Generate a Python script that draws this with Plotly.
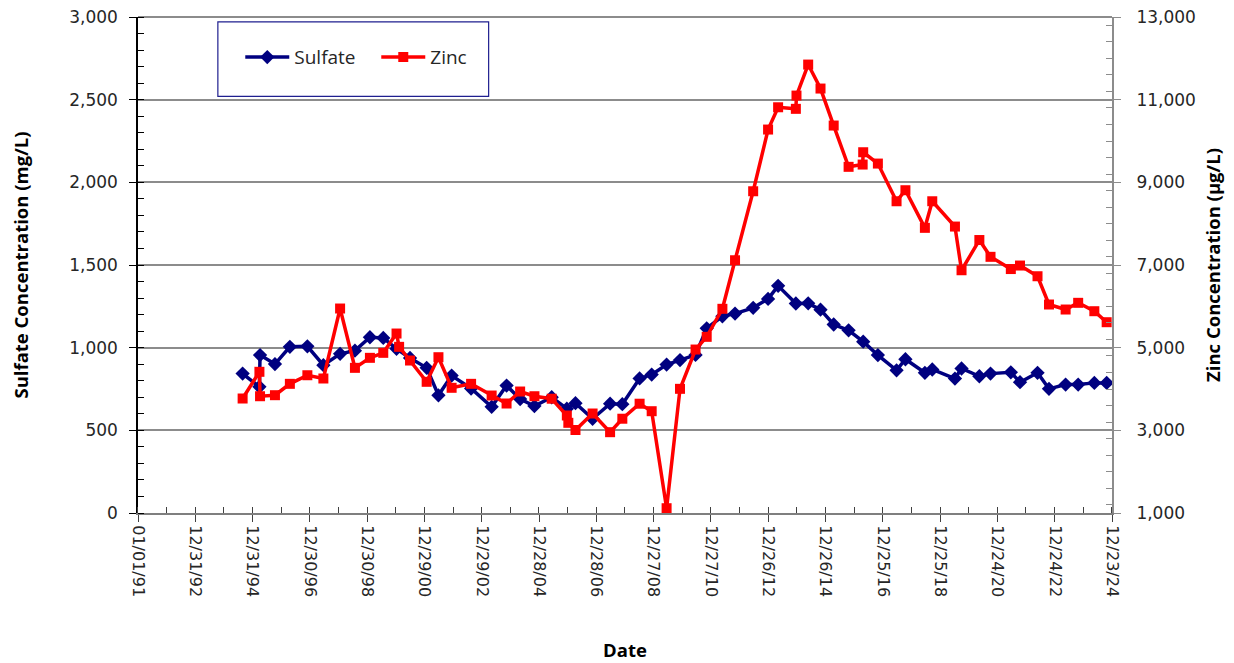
import plotly.graph_objects as go

# -- sampling dates and concentrations
sulfate_dates = ["1994-08-26", "1995-03-28", "1995-04-05", "1995-10-12", "1996-04-19", "1996-11-28",
                 "1997-06-20", "1998-01-19", "1998-07-27", "1999-02-03", "1999-07-23", "2000-01-08",
                 "2000-06-28", "2001-01-26", "2001-06-25", "2001-12-10", "2002-08-15", "2003-05-04",
                 "2003-11-10", "2004-05-01", "2004-10-30", "2005-06-07", "2005-12-17", "2006-04-06",
                 "2006-11-10", "2007-06-21", "2007-11-24", "2008-07-01", "2008-12-02", "2009-06-10",
                 "2009-11-28", "2010-06-14", "2010-11-03", "2011-05-22", "2011-10-30", "2012-06-17",
                 "2012-12-24", "2013-05-01", "2013-12-13", "2014-05-19", "2014-10-23", "2015-04-09",
                 "2015-10-16", "2016-04-19", "2016-10-23", "2017-06-18", "2017-10-09", "2018-06-14",
                 "2018-09-16", "2019-07-02", "2019-09-24", "2020-05-08", "2020-09-27", "2021-06-13",
                 "2021-10-08", "2022-05-19", "2022-10-12", "2023-05-12", "2023-10-19", "2024-05-12",
                 "2024-10-16"]
sulfate_mg_l = [843, 763, 955, 901, 1005, 1008, 894, 963, 982, 1063, 1059, 993,
                938, 878, 712, 831, 753, 642, 771, 689, 647, 700, 631, 664,
                570, 661, 658, 814, 837, 898, 925, 956, 1117, 1190, 1206, 1241,
                1295, 1374, 1267, 1268, 1230, 1140, 1105, 1036, 955, 863, 930, 848,
                868, 813, 874, 827, 843, 851, 791, 848, 751, 777, 777, 787, 787]

zinc_dates = ["1994-08-26", "1995-03-28", "1995-04-05", "1995-10-12", "1996-04-19", "1996-11-28",
              "1997-06-20", "1998-01-19", "1998-07-27", "1999-02-03", "1999-07-23", "2000-01-08",
              "2000-02-10", "2000-06-28", "2001-01-26", "2001-06-25", "2001-12-10", "2002-08-15",
              "2003-05-04", "2003-11-10", "2004-05-01", "2004-10-30", "2005-06-07", "2005-12-17",
              "2006-01-05", "2006-04-06", "2006-11-10", "2007-06-21", "2007-11-24", "2008-07-01",
              "2008-12-02", "2009-06-10", "2009-11-28", "2010-06-14", "2010-11-03", "2011-05-22",
              "2011-10-30", "2012-06-17", "2012-12-24", "2013-05-01", "2013-12-13", "2013-12-21",
              "2014-05-19", "2014-10-23", "2015-04-09", "2015-10-16", "2016-04-12", "2016-04-19",
              "2016-10-23", "2017-06-18", "2017-10-09", "2018-06-14", "2018-09-16", "2019-07-02",
              "2019-09-24", "2020-05-08", "2020-09-27", "2021-06-13", "2021-10-08", "2022-05-19",
              "2022-10-12", "2023-05-12", "2023-10-19", "2024-05-12", "2024-10-16"]
zinc_ug_l = [3770, 4416, 3825, 3850, 4125, 4333, 4254, 5947, 4512, 4754, 4875, 5342,
             5020, 4689, 4174, 4769, 4029, 4125, 3842, 3649, 3939, 3825, 3765, 3359,
             3182, 3008, 3407, 2955, 3281, 3644, 3463, 1116, 4004, 4955, 5262, 5940,
             7115, 8784, 10277, 10816, 10778, 11099, 11849, 11269, 10374, 9375, 9430, 9728,
             9454, 8542, 8809, 7899, 8542, 7930, 6873, 7604, 7198, 6902, 6987, 6728,
             6044, 5923, 6085, 5882, 5616]

# -- x ticks every 730 days, as in the original spreadsheet chart
tick_dates = ["1991-01-01", "1992-12-31", "1994-12-31", "1996-12-30", "1998-12-30", "2000-12-29",
              "2002-12-29", "2004-12-28", "2006-12-28", "2008-12-27", "2010-12-27", "2012-12-26",
              "2014-12-26", "2016-12-25", "2018-12-25", "2020-12-24", "2022-12-24", "2024-12-23"]
tick_labels = ["01/01/91", "12/31/92", "12/31/94", "12/30/96", "12/30/98", "12/29/00",
               "12/29/02", "12/28/04", "12/28/06", "12/27/08", "12/27/10", "12/26/12",
               "12/26/14", "12/25/16", "12/25/18", "12/24/20", "12/24/22", "12/23/24"]

navy = "#000080"
red = "#FF0000"
grid = "#8C8C8C"
x_tick_font = dict(family="DejaVu Sans", size=16, color="#262626")
y_tick_font = dict(family="DejaVu Sans", size=17, color="#262626")
title_font = dict(family="Open Sans", size=18.5, color="#000000", weight="bold")

fig = go.Figure()
fig.add_trace(go.Scatter(x=sulfate_dates, y=sulfate_mg_l, name="Sulfate", mode="lines+markers",
                         line=dict(color=navy, width=3.5),
                         marker=dict(symbol="diamond", size=11, color=navy)))
fig.add_trace(go.Scatter(x=zinc_dates, y=zinc_ug_l, name="Zinc", mode="lines+markers", yaxis="y2",
                         line=dict(color=red, width=3.5),
                         marker=dict(symbol="square", size=10, color=red)))

# page body has an 8px margin, so the margins are trimmed by 8 on the left/top
fig.update_layout(
    width=1234, height=663,
    margin=dict(l=130, r=130, t=9, b=158, autoexpand=False),
    plot_bgcolor="white", paper_bgcolor="white",
    showlegend=True,
    legend=dict(orientation="h", x=0.105, y=0.919, xanchor="left", yanchor="middle",
                itemwidth=44, entrywidth=77, bgcolor="rgba(0,0,0,0)", borderwidth=0,
                font=dict(family="Open Sans", size=19, color="#262626")),
    xaxis=dict(type="date", range=[tick_dates[0], tick_dates[-1]], automargin=False,
               tickvals=tick_dates, ticktext=tick_labels, tickangle=90,
               tickfont=x_tick_font, showgrid=False, zeroline=False, ticklabeloverflow="allow",
               showline=True, linecolor="#7F7F7F", linewidth=2,
               ticks="outside", ticklen=7, tickcolor="#404040",
               minor=dict(ticks="inside", ticklen=6, tickcolor="#404040", dtick=365 * 86400000,
                          tick0="1991-12-31", showgrid=False),
               title=dict(text="Date", font=title_font, standoff=48)),
    yaxis=dict(range=[0, 3000], dtick=500, tickformat=",", tickfont=y_tick_font, automargin=False,
               showgrid=True, gridcolor=grid, gridwidth=2, zeroline=False,
               ticklabeloverflow="allow", ticklabelstandoff=8,
               showline=True, linecolor="#000000", linewidth=1.5,
               ticks="outside", ticklen=7, tickcolor="#000000",
               minor=dict(ticks="inside", ticklen=6, dtick=100, tickcolor="#000000", showgrid=False),
               title=dict(text="Sulfate Concentration (mg/L)", font=title_font, standoff=52)),
    yaxis2=dict(range=[1000, 13000], tick0=1000, dtick=2000, tickformat=",", tickfont=y_tick_font,
                automargin=False, overlaying="y", side="right", showgrid=False, zeroline=False,
                ticklabeloverflow="allow", ticklabelstandoff=12,
                showline=True, linecolor="#8C8C8C", linewidth=2,
                ticks="outside", ticklen=7, tickcolor="#8C8C8C",
                minor=dict(ticks="inside", ticklen=6, dtick=400, tickcolor="#8C8C8C", showgrid=False),
                title=dict(text="Zinc Concentration (µg/L)", font=title_font, standoff=12)),
    shapes=[dict(type="rect", xref="paper", yref="paper", x0=0.082, x1=0.360, y0=0.84, y1=0.99,
                 line=dict(color="#1F1F8F", width=1.2), fillcolor="rgba(0,0,0,0)", layer="above"),
            # top gridline at 3,000 sits on the plot edge
            dict(type="line", xref="paper", yref="paper", x0=0, x1=1, y0=1, y1=1,
                 line=dict(color=grid, width=2), layer="below")],
)

fig.write_html("out.html")
